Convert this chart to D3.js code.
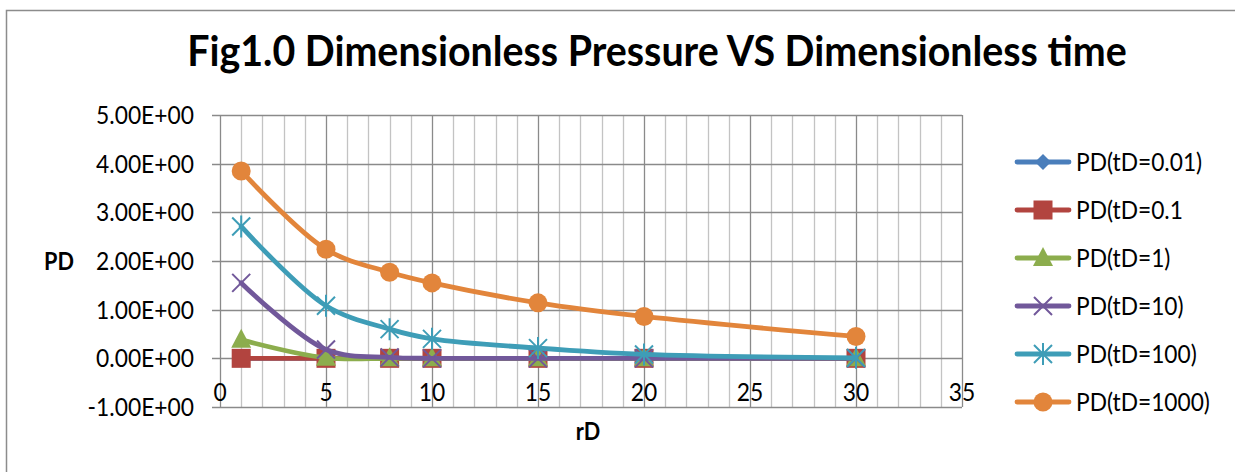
<!DOCTYPE html>
<html>
<head>
<meta charset="utf-8">
<script src="https://cdn.jsdelivr.net/npm/d3@7"></script>
<style>
  body { margin: 0; background: #fff; }
  svg { display: block; }
  text { font-family: Lato, "Open Sans", sans-serif; fill: #000; }
</style>
</head>
<body>
<svg id="chart" width="1235" height="472"></svg>
<script>
// Dimensionless radius values where PD was evaluated
const rD = [1, 5, 8, 10, 15, 20, 30];

// Dimensionless pressure for each dimensionless time
const pdT001  = [0, 0, 0, 0, 0, 0, 0];
const pdT01   = [0, 0, 0, 0, 0, 0, 0];
const pdT1    = [0.38, 0.01, 0, 0, 0, 0, 0];
const pdT10   = [1.55, 0.18, 0.02, 0, 0, 0, 0];
const pdT100  = [2.71, 1.08, 0.60, 0.40, 0.21, 0.08, 0.01];
const pdT1000 = [3.85, 2.24, 1.77, 1.55, 1.14, 0.86, 0.45];

const seriesNames = ["PD(tD=0.01)", "PD(tD=0.1", "PD(tD=1)", "PD(tD=10)", "PD(tD=100)", "PD(tD=1000)"];
const seriesValues = [pdT001, pdT01, pdT1, pdT10, pdT100, pdT1000];
const seriesColors = ["#4A7EBB", "#B2443F", "#8CAD4D", "#71589A", "#3E9DB7", "#E2853B"];
const seriesMarkers = ["diamond", "square", "triangle", "cross", "star", "circle"];

const xTicks = [0, 5, 10, 15, 20, 25, 30, 35];
const xMinorTicks = d3.range(0, 36, 1);
const yTicks = [-1, 0, 1, 2, 3, 4, 5];
const yTickLabels = ["-1.00E+00", "0.00E+00", "1.00E+00", "2.00E+00", "3.00E+00", "4.00E+00", "5.00E+00"];

const titleText = "Fig1.0 Dimensionless Pressure VS Dimensionless time";
const xTitle = "rD";
const yTitle = "PD";

const svg = d3.select("#chart");
const W = 1235, H = 472;

const x = d3.scaleLinear().domain([0, 35]).range([220, 962]);
const y = d3.scaleLinear().domain([-1, 5]).range([407, 115]);
const crisp = v => Math.round(v) + 0.5;

// Measure a string at a given size and weight
function measure(str, size, weight) {
  const t = svg.append("text").attr("font-size", size).attr("font-weight", weight).text(str);
  const w = t.node().getComputedTextLength();
  t.remove();
  return w;
}
// Pick a font size so that a sample string spans the given width
function fitSize(sample, width, weight) {
  return 100 * width / measure(sample, 100, weight);
}
// Slightly taller glyphs, squeezed back to the natural narrow width
function narrowText(sel, size, weight, squeeze) {
  sel.attr("font-size", size * squeeze).attr("font-weight", weight)
    .each(function () {
      const str = d3.select(this).text();
      d3.select(this)
        .attr("textLength", measure(str, size, weight))
        .attr("lengthAdjust", "spacingAndGlyphs");
    });
}

// Chart area frame
svg.append("rect")
  .attr("x", 6.5).attr("y", 10.5)
  .attr("width", W + 10).attr("height", H + 10)
  .attr("fill", "#fff").attr("stroke", "#8c8c8c").attr("stroke-width", 1.5);

// Title
const titleSize = fitSize(titleText, 940, "bold");
svg.append("text")
  .attr("x", 657).attr("y", 66)
  .attr("text-anchor", "middle")
  .text(titleText)
  .call(narrowText, titleSize, "bold", 1.06);

// Gridlines
const grid = svg.append("g");
grid.selectAll("line.minor")
  .data(xMinorTicks.filter(d => d % 5 !== 0))
  .join("line")
  .attr("x1", d => crisp(x(d))).attr("x2", d => crisp(x(d)))
  .attr("y1", y(5)).attr("y2", y(-1))
  .attr("stroke", "#c3c3c3").attr("stroke-width", 1.3);
grid.selectAll("line.majorx")
  .data(xTicks)
  .join("line")
  .attr("x1", d => crisp(x(d))).attr("x2", d => crisp(x(d)))
  .attr("y1", y(5)).attr("y2", y(-1))
  .attr("stroke", "#8a8a8a").attr("stroke-width", 1.3);
grid.selectAll("line.majory")
  .data(yTicks)
  .join("line")
  .attr("x1", x(0) - 8).attr("x2", x(35))
  .attr("y1", d => crisp(y(d))).attr("y2", d => crisp(y(d)))
  .attr("stroke", "#8a8a8a").attr("stroke-width", 1.3);

// Axis tick labels
const tickSize = fitSize("5.00E+00", 98, "normal");
svg.append("g").selectAll("text")
  .data(yTicks)
  .join("text")
  .attr("x", 194)
  .attr("y", d => y(d))
  .attr("dy", "0.36em")
  .attr("text-anchor", "end")
  .text((d, i) => yTickLabels[i])
  .call(narrowText, tickSize, "normal", 1.1);

svg.append("g").selectAll("text")
  .data(xTicks)
  .join("text")
  .attr("x", d => x(d))
  .attr("y", y(0) + 43)
  .attr("text-anchor", "middle")
  .text(d => d)
  .call(narrowText, tickSize, "normal", 1.1);

// Axis titles
svg.append("text")
  .attr("x", 59).attr("y", y(2))
  .attr("dy", "0.36em")
  .attr("text-anchor", "middle")
  .text(yTitle)
  .call(narrowText, tickSize * 0.95, "bold", 1.1);
svg.append("text")
  .attr("x", 588).attr("y", 440)
  .attr("text-anchor", "middle")
  .text(xTitle)
  .call(narrowText, tickSize * 0.95, "bold", 1.1);

// Marker shapes
function drawMarker(g, type, color) {
  switch (type) {
    case "diamond":
      g.append("path").attr("d", "M0,-8L8,0L0,8L-8,0Z").attr("fill", color);
      break;
    case "square":
      g.append("rect").attr("x", -9.5).attr("y", -9.5).attr("width", 19).attr("height", 19).attr("fill", color);
      break;
    case "triangle":
      g.append("path").attr("d", "M0,-11L10,8L-10,8Z").attr("fill", color);
      break;
    case "cross":
      g.append("path").attr("d", "M-9,-9L9,9M-9,9L9,-9").attr("stroke", color).attr("stroke-width", 2).attr("fill", "none");
      break;
    case "star":
      g.append("path").attr("d", "M-9,-9L9,9M-9,9L9,-9M0,-11L0,11").attr("stroke", color).attr("stroke-width", 2).attr("fill", "none");
      break;
    case "circle":
      g.append("circle").attr("r", 9.5).attr("fill", color);
      break;
  }
}

// Series: smoothed lines with markers
const line = d3.line()
  .x((d, i) => x(rD[i]))
  .y(d => y(d))
  .curve(d3.curveCatmullRom.alpha(0.5));

const plot = svg.append("g");
seriesValues.forEach((vals, s) => {
  const g = plot.append("g");
  g.append("path")
    .attr("d", line(vals))
    .attr("fill", "none")
    .attr("stroke", seriesColors[s])
    .attr("stroke-width", 4.8)
    .attr("stroke-linejoin", "round")
    .attr("stroke-linecap", "round");
  vals.forEach((v, i) => {
    const m = g.append("g").attr("transform", `translate(${x(rD[i])},${y(v)})`);
    drawMarker(m, seriesMarkers[s], seriesColors[s]);
  });
});

// Legend
const legendSize = fitSize("PD(tD=1000)", 134, "normal");
const legendY = d3.scaleLinear().domain([0, 5]).range([162, 402]);
const legend = svg.append("g");
seriesNames.forEach((name, s) => {
  const ly = legendY(s);
  legend.append("line")
    .attr("x1", 1017).attr("x2", 1069)
    .attr("y1", ly).attr("y2", ly)
    .attr("stroke", seriesColors[s]).attr("stroke-width", 4.8)
    .attr("stroke-linecap", "round");
  const m = legend.append("g").attr("transform", `translate(1043,${ly})`);
  drawMarker(m, seriesMarkers[s], seriesColors[s]);
  legend.append("text")
    .attr("x", 1076).attr("y", ly)
    .attr("dy", "0.36em")
    .text(name)
    .call(narrowText, legendSize, "normal", 1.1);
});
</script>
</body>
</html>
